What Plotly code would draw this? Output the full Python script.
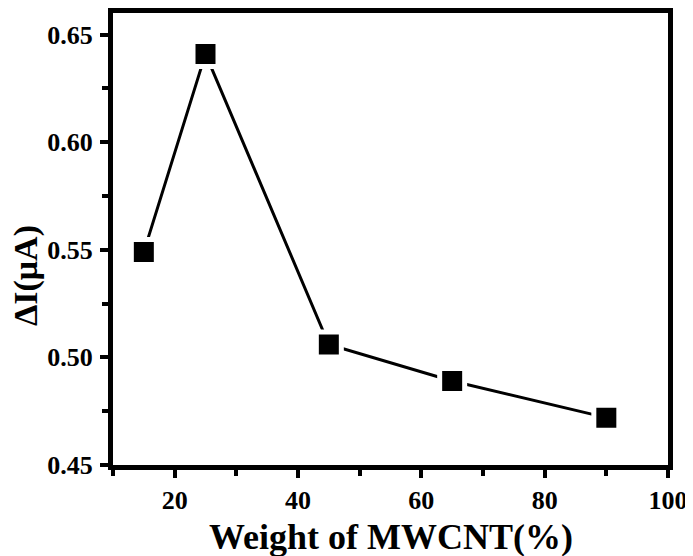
import plotly.graph_objects as go

weight_pct = [15, 25, 45, 65, 90]
delta_i = [0.549, 0.641, 0.506, 0.489, 0.472]

x_ticks = [20, 40, 60, 80, 100]
y_ticks = [0.45, 0.50, 0.55, 0.60, 0.65]
y_tick_text = ["0.45", "0.50", "0.55", "0.60", "0.65"]

x_title = "Weight of MWCNT(%)"
y_title = "ΔI(μA)"

font_family = "Liberation Serif"

fig = go.Figure()
fig.add_trace(go.Scatter(
    x=weight_pct, y=delta_i, mode="lines+markers",
    line=dict(color="black", width=3),
    marker=dict(symbol="square", size=25, color="black",
                line=dict(color="white", width=5)),
    showlegend=False,
))

axis_common = dict(
    showline=True, linecolor="black", linewidth=5, mirror=True,
    showgrid=False, zeroline=False, automargin=False,
    ticks="outside", tickcolor="black", tickwidth=4, ticklen=8,
    tickfont=dict(family=font_family, size=26, color="black", weight="bold"),
)

fig.update_xaxes(
    range=[10, 100], tickvals=x_ticks,
    minor=dict(dtick=10, tick0=10, ticks="outside", ticklen=6, tickwidth=4, tickcolor="black"),
    ticklabelstandoff=0,
    **axis_common,
)
fig.update_yaxes(
    range=[0.45, 0.66], tickvals=y_ticks, ticktext=y_tick_text,
    minor=dict(dtick=0.025, tick0=0.45, ticks="outside", ticklen=6, tickwidth=4, tickcolor="black"),
    ticklabelstandoff=2,
    **axis_common,
)

fig.add_annotation(
    text="<b>" + x_title + "</b>", xref="paper", yref="paper",
    x=0.5, y=-0.16, xanchor="center", yanchor="middle", showarrow=False,
    font=dict(family=font_family, size=36, color="black"),
)
fig.add_annotation(
    text="<b>" + y_title + "</b>", xref="paper", yref="paper",
    x=-0.157, y=0.42, xanchor="center", yanchor="middle", showarrow=False,
    textangle=-90,
    font=dict(family=font_family, size=34, color="black"),
)

fig.update_layout(
    width=685, height=548,
    margin=dict(l=105, r=25, t=5, b=91),
    paper_bgcolor="white", plot_bgcolor="white",
)

fig.write_html("out.html")
